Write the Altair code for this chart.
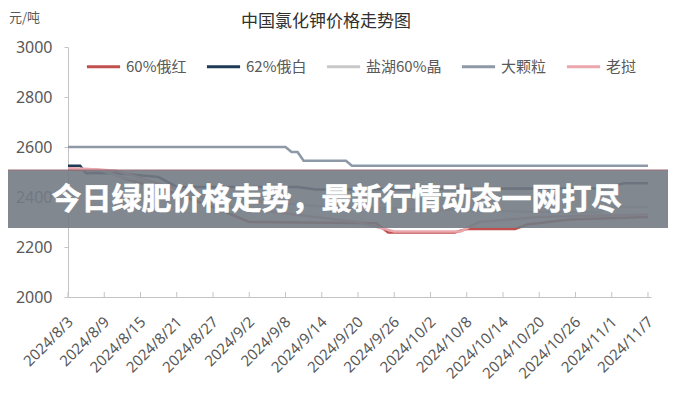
import altair as alt
import pandas as pd

# ---------------- data ----------------
series_names = ["60%俄红", "62%俄白", "盐湖60%晶", "大颗粒", "老挝"]
series_colors = ["#c0504d", "#1f3a55", "#c9c9c9", "#8e99a7", "#eba6ae"]

red_dates = ["2024-08-03", "2024-08-09", "2024-08-13", "2024-08-20", "2024-08-27", "2024-09-02",
             "2024-09-23", "2024-09-25", "2024-10-06", "2024-10-08", "2024-10-16", "2024-10-18",
             "2024-10-25", "2024-11-07"]
red_vals = [2510, 2505, 2470, 2420, 2360, 2300, 2295, 2258, 2258, 2272, 2272, 2290, 2310, 2320]

navy_dates = ["2024-08-03", "2024-08-05", "2024-08-06", "2024-08-11", "2024-08-18", "2024-08-21",
              "2024-09-10", "2024-09-13", "2024-10-31", "2024-11-03", "2024-11-07"]
navy_vals = [2525, 2525, 2495, 2495, 2480, 2440, 2440, 2430, 2435, 2455, 2455]

salt_dates = ["2024-08-03", "2024-08-08", "2024-08-12", "2024-08-20", "2024-08-27", "2024-09-05",
              "2024-09-15", "2024-10-20", "2024-10-30", "2024-11-01", "2024-11-07"]
salt_vals = [2515, 2510, 2480, 2440, 2400, 2380, 2360, 2340, 2340, 2360, 2360]

big_dates = ["2024-08-03", "2024-09-08", "2024-09-09", "2024-09-10", "2024-09-11", "2024-09-18",
             "2024-09-19", "2024-11-07"]
big_vals = [2600, 2600, 2580, 2580, 2545, 2545, 2525, 2525]

laos_dates = ["2024-08-03", "2024-08-08", "2024-08-11", "2024-08-20", "2024-08-30", "2024-09-20",
              "2024-09-26", "2024-10-07", "2024-10-10", "2024-10-20", "2024-11-07"]
laos_vals = [2515, 2510, 2505, 2440, 2360, 2300, 2262, 2262, 2300, 2320, 2330]

tick_dates = ["2024-08-03", "2024-08-09", "2024-08-15", "2024-08-21", "2024-08-27", "2024-09-02",
              "2024-09-08", "2024-09-14", "2024-09-20", "2024-09-26", "2024-10-02", "2024-10-08",
              "2024-10-14", "2024-10-20", "2024-10-26", "2024-11-01", "2024-11-07"]
y_ticks = [2000, 2200, 2400, 2600, 2800, 3000]

title_text = "中国氯化钾价格走势图"
unit_text = "元/吨"
banner_text = "今日绿肥价格走势，最新行情动态一网打尽"

# ---------------- build table ----------------
rows = []
for name, ds, vs in zip(series_names,
                        [red_dates, navy_dates, salt_dates, big_dates, laos_dates],
                        [red_vals, navy_vals, salt_vals, big_vals, laos_vals]):
    for d, v in zip(ds, vs):
        rows.append({"series": name, "date": d, "price": v})
df = pd.DataFrame(rows)
ticks_df = pd.DataFrame({"date": tick_dates})


def ms(s):
    return int(pd.Timestamp(s, tz="UTC").value // 10**6)


x_domain = [ms("2024-08-03"), ms("2024-11-07") + 12 * 3600 * 1000]
x_scale = alt.Scale(type="utc", domain=x_domain)
FONT = "Noto Sans CJK SC"

x_axis = alt.Axis(values=[ms(t) for t in tick_dates],
                  labelExpr="utcFormat(datum.value, '%Y/%-m/%-d')",
                  title=None, grid=False, ticks=False,
                  domainColor="#c4c4c4", domainWidth=1,
                  labelAngle=315, labelAlign="right", labelBaseline="middle",
                  labelPadding=22, labelOffset=2, labelFontSize=15, labelColor="#595959",
                  labelFont="Noto Sans", labelOverlap=False, labelBound=False,
                  labelFlush=False)

lines = alt.Chart(df).mark_line(strokeWidth=2.6).encode(
    x=alt.X("date:T", scale=x_scale, axis=x_axis),
    y=alt.Y("price:Q", scale=alt.Scale(domain=[2000, 3000], nice=False, zero=False),
            axis=alt.Axis(values=y_ticks, format="d", title=None, grid=False,
                          domainColor="#c4c4c4", tickColor="#c4c4c4", tickSize=4,
                          labelPadding=12, labelFontSize=16, labelColor="#595959",
                          labelFont="Noto Sans")),
    color=alt.Color("series:N",
                    scale=alt.Scale(domain=series_names, range=series_colors),
                    sort=series_names,
                    legend=alt.Legend(orient="none", legendX=17, legendY=1,
                                      direction="horizontal", title=None,
                                      symbolType="stroke", symbolStrokeWidth=3,
                                      symbolSize=1100, labelFontSize=15,
                                      labelFont=FONT, labelColor="#595959",
                                      columnPadding=13, labelOffset=4, labelLimit=200)),
    order=alt.Order("date:T"),
)

xticks = alt.Chart(ticks_df).mark_rule(color="#c4c4c4", strokeWidth=1).encode(
    x=alt.X("date:T", scale=x_scale, axis=x_axis),
    y=alt.value(245),
    y2=alt.value(250),
)

one = pd.DataFrame({"t": [title_text], "u": [unit_text], "b": [banner_text]})

title = alt.Chart(one).mark_text(font=FONT, fontSize=17, color="#303030",
                                 align="center", baseline="middle").encode(
    text="t:N", x=alt.value(258), y=alt.value(-25))

unit = alt.Chart(one).mark_text(font=FONT, fontSize=13, color="#595959",
                                align="left", baseline="middle").encode(
    text="u:N", x=alt.value(-59), y=alt.value(-29))

banner = alt.Chart(one).mark_rect(color="#737b84", opacity=0.9).encode(
    x=alt.value(-60), x2=alt.value(600), y=alt.value(123), y2=alt.value(181))

banner_edge = alt.Chart(one).mark_rule(color="#9c6f77", strokeWidth=1).encode(
    x=alt.value(-60), x2=alt.value(600), y=alt.value(123))

banner_txt = alt.Chart(one).mark_text(font=FONT, fontSize=30, fontWeight="bold",
                                      color="#ffffff", stroke="#ffffff", strokeWidth=0.6,
                                      align="center", baseline="middle").encode(
    text="b:N", x=alt.value(268.5), y=alt.value(153))

chart = alt.layer(
    lines, xticks, title, unit, banner, banner_edge, banner_txt
).properties(
    width=583, height=250,
    padding={"left": 60, "top": 39, "right": 17, "bottom": 95},
    autosize=alt.AutoSizeParams(type="none"),
    background="#ffffff",
).configure_view(stroke=None)

chart.save("out.html", embed_options={"renderer": "svg", "actions": False})
